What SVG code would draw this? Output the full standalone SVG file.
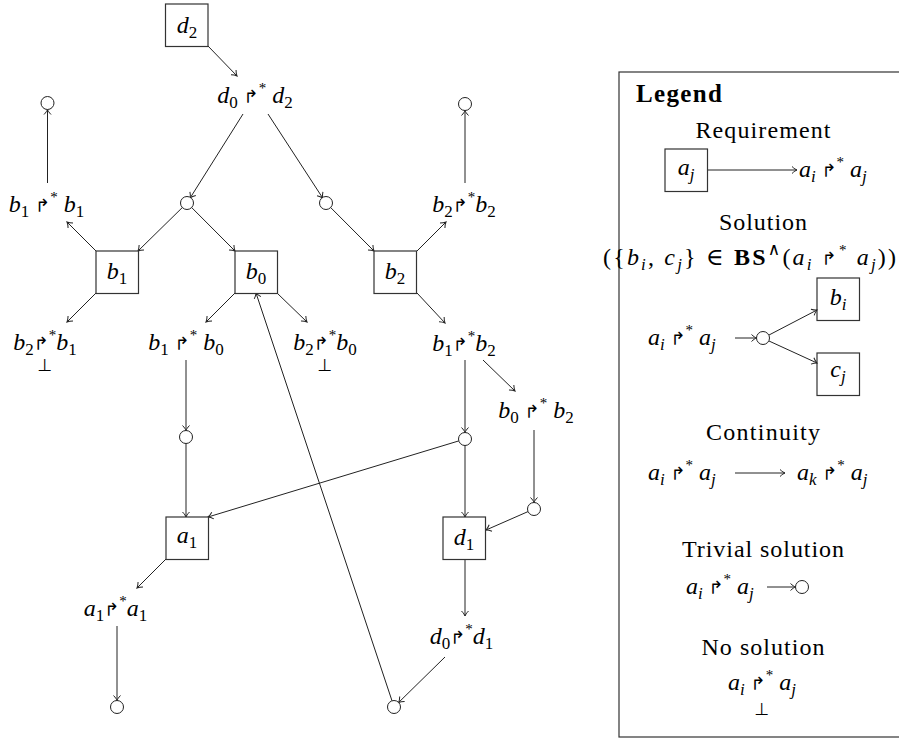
<svg xmlns="http://www.w3.org/2000/svg" width="899" height="738" viewBox="0 0 899 738">
<style>
text{font-family:"Liberation Serif","DejaVu Serif",serif;font-size:24px;fill:#000}
.m{text-anchor:middle}
.i{font-style:italic}
.sb{font-size:17px}
.op{font-family:"DejaVu Sans",sans-serif;font-size:18px}
.sp{font-size:15px}
.bot{font-family:"DejaVu Sans",sans-serif;font-size:17px;text-anchor:middle;fill:#000}
.lt{font-size:24px;text-anchor:middle}
.lg{font-size:25px;font-weight:bold}
.bx{fill:#fff;stroke:#333;stroke-width:1.2}
.ci{fill:#fff;stroke:#222;stroke-width:1}
.e{fill:none;stroke:#222;stroke-width:1}
.a{marker-end:url(#ah)}
</style>
<defs>
<marker id="ah" viewBox="-6 -5 7 10" refX="0" refY="0" markerWidth="7" markerHeight="10" orient="auto" markerUnits="userSpaceOnUse">
<path d="M-5,-3.5 C-3,-1.5 -1,-0.4 0,0 C-1,0.4 -3,1.5 -5,3.5" fill="none" stroke="#222" stroke-width="1"/>
</marker>
</defs>

<g id="connectors">
<line class="e a" x1="208" y1="46" x2="237" y2="76"/>
<line class="e a" x1="243" y1="114" x2="190.2" y2="197.9"/>
<line class="e a" x1="268" y1="114" x2="322.7" y2="198"/>
<line class="e a" x1="182.7" y1="207.2" x2="138" y2="251"/>
<line class="e a" x1="191.3" y1="207.2" x2="235" y2="251"/>
<line class="e a" x1="330.3" y1="207.2" x2="374" y2="251"/>
<line class="e a" x1="96" y1="251" x2="67" y2="222"/>
<line class="e a" x1="47.5" y1="183" x2="47.5" y2="109.5"/>
<line class="e a" x1="417" y1="251" x2="446" y2="222"/>
<line class="e a" x1="465" y1="183" x2="465" y2="110.5"/>
<line class="e a" x1="96" y1="293" x2="67" y2="322"/>
<line class="e a" x1="235" y1="293" x2="206" y2="322"/>
<line class="e a" x1="277" y1="293" x2="307" y2="322"/>
<line class="e a" x1="417" y1="293" x2="445" y2="323"/>
<line class="e a" x1="186" y1="360" x2="186" y2="430.5"/>
<line class="e a" x1="186" y1="443.5" x2="186" y2="517"/>
<line class="e a" x1="465" y1="360" x2="465" y2="432.5"/>
<line class="e a" x1="483" y1="360" x2="515" y2="391"/>
<line class="e a" x1="534" y1="430" x2="534" y2="502.5"/>
<line class="e a" x1="465" y1="445.5" x2="465" y2="517"/>
<line class="e a" x1="458.8" y1="440.9" x2="208" y2="517"/>
<line class="e a" x1="528" y1="511.6" x2="486" y2="530"/>
<line class="e a" x1="166" y1="559" x2="137" y2="588"/>
<line class="e a" x1="117" y1="626" x2="117" y2="700.5"/>
<line class="e a" x1="465" y1="560" x2="465" y2="616"/>
<line class="e a" x1="445" y1="657" x2="398.6" y2="702.5"/>
<line class="e a" x1="392" y1="700.8" x2="256" y2="293"/>
</g>

<g id="node-d2"><rect class="bx" x="165.5" y="4" width="42.5" height="42.5"/><text class="m" x="187" y="33"><tspan class="i">d</tspan><tspan class="sb" dy="5">2</tspan></text></g>
<g id="node-d0d2"><text class="m" x="255" y="103"><tspan class="i">d</tspan><tspan class="sb" dy="5">0</tspan><tspan class="op" dy="-5"> ↱</tspan><tspan class="sp" dy="-10">*</tspan><tspan class="i" dy="10"> d</tspan><tspan class="sb" dy="5">2</tspan></text></g>
<g id="node-c1"><circle class="ci" cx="187" cy="203" r="6.5"/></g>
<g id="node-c2"><circle class="ci" cx="326" cy="203" r="6.5"/></g>
<g id="node-c3"><circle class="ci" cx="47.5" cy="103" r="6.5"/></g>
<g id="node-c4"><circle class="ci" cx="465" cy="104" r="6.5"/></g>
<g id="node-b1b1"><text class="m" x="46.5" y="212"><tspan class="i">b</tspan><tspan class="sb" dy="5">1</tspan><tspan class="op" dy="-5"> ↱</tspan><tspan class="sp" dy="-10">*</tspan><tspan class="i" dy="10"> b</tspan><tspan class="sb" dy="5">1</tspan></text></g>
<g id="node-b2b2"><text class="m" x="464" y="212"><tspan class="i">b</tspan><tspan class="sb" dy="5">2</tspan><tspan class="op" dy="-5">↱</tspan><tspan class="sp" dy="-10">*</tspan><tspan class="i" dy="10">b</tspan><tspan class="sb" dy="5">2</tspan></text></g>
<g id="node-b1"><rect class="bx" x="96" y="251" width="42.5" height="42.5"/><text class="m" x="117" y="279"><tspan class="i">b</tspan><tspan class="sb" dy="5">1</tspan></text></g>
<g id="node-b0"><rect class="bx" x="235" y="251" width="42.5" height="42.5"/><text class="m" x="256" y="279"><tspan class="i">b</tspan><tspan class="sb" dy="5">0</tspan></text></g>
<g id="node-b2"><rect class="bx" x="374" y="251" width="42.5" height="42.5"/><text class="m" x="395" y="279"><tspan class="i">b</tspan><tspan class="sb" dy="5">2</tspan></text></g>
<g id="node-b2b1"><text class="m" x="45" y="350"><tspan class="i">b</tspan><tspan class="sb" dy="5">2</tspan><tspan class="op" dy="-5">↱</tspan><tspan class="sp" dy="-10">*</tspan><tspan class="i" dy="10">b</tspan><tspan class="sb" dy="5">1</tspan></text><text class="bot" x="45" y="371">⊥</text></g>
<g id="node-b1b0"><text class="m" x="186" y="350"><tspan class="i">b</tspan><tspan class="sb" dy="5">1</tspan><tspan class="op" dy="-5"> ↱</tspan><tspan class="sp" dy="-10">*</tspan><tspan class="i" dy="10"> b</tspan><tspan class="sb" dy="5">0</tspan></text></g>
<g id="node-b2b0"><text class="m" x="325" y="350"><tspan class="i">b</tspan><tspan class="sb" dy="5">2</tspan><tspan class="op" dy="-5">↱</tspan><tspan class="sp" dy="-10">*</tspan><tspan class="i" dy="10">b</tspan><tspan class="sb" dy="5">0</tspan></text><text class="bot" x="325" y="371">⊥</text></g>
<g id="node-b1b2"><text class="m" x="464" y="351"><tspan class="i">b</tspan><tspan class="sb" dy="5">1</tspan><tspan class="op" dy="-5">↱</tspan><tspan class="sp" dy="-10">*</tspan><tspan class="i" dy="10">b</tspan><tspan class="sb" dy="5">2</tspan></text></g>
<g id="node-b0b2"><text class="m" x="536" y="418"><tspan class="i">b</tspan><tspan class="sb" dy="5">0</tspan><tspan class="op" dy="-5"> ↱</tspan><tspan class="sp" dy="-10">*</tspan><tspan class="i" dy="10"> b</tspan><tspan class="sb" dy="5">2</tspan></text></g>
<g id="node-c5"><circle class="ci" cx="186" cy="437" r="6.5"/></g>
<g id="node-c6"><circle class="ci" cx="465" cy="439" r="6.5"/></g>
<g id="node-c7"><circle class="ci" cx="534" cy="509" r="6.5"/></g>
<g id="node-a1"><rect class="bx" x="166" y="517" width="42.5" height="42.5"/><text class="m" x="187" y="543"><tspan class="i">a</tspan><tspan class="sb" dy="5">1</tspan></text></g>
<g id="node-d1"><rect class="bx" x="443" y="517" width="42.5" height="42.5"/><text class="m" x="464" y="545"><tspan class="i">d</tspan><tspan class="sb" dy="5">1</tspan></text></g>
<g id="node-a1a1"><text class="m" x="115.5" y="616"><tspan class="i">a</tspan><tspan class="sb" dy="5">1</tspan><tspan class="op" dy="-5">↱</tspan><tspan class="sp" dy="-10">*</tspan><tspan class="i" dy="10">a</tspan><tspan class="sb" dy="5">1</tspan></text></g>
<g id="node-d0d1"><text class="m" x="461.5" y="644"><tspan class="i">d</tspan><tspan class="sb" dy="5">0</tspan><tspan class="op" dy="-5">↱</tspan><tspan class="sp" dy="-10">*</tspan><tspan class="i" dy="10">d</tspan><tspan class="sb" dy="5">1</tspan></text></g>
<g id="node-c8"><circle class="ci" cx="117" cy="707" r="6.5"/></g>
<g id="node-c9"><circle class="ci" cx="394" cy="707" r="6.5"/></g>

<g id="legend">
<rect x="619" y="72" width="290" height="665" fill="none" stroke="#333" stroke-width="1.2"/>
<text class="lg" x="636" y="102" textLength="86" lengthAdjust="spacing">Legend</text>
<text class="lt" x="763" y="138" textLength="135" lengthAdjust="spacing">Requirement</text>
<rect class="bx" x="665" y="149" width="42.5" height="42.5"/>
<text class="m" x="686" y="175"><tspan class="i">a</tspan><tspan class="sb i" dy="5">j</tspan></text>
<line class="e a" x1="708" y1="170" x2="797" y2="170"/>
<text x="799" y="177"><tspan class="i">a</tspan><tspan class="sb i" dy="5">i</tspan><tspan class="op" dy="-5"> ↱</tspan><tspan class="sp" dy="-10">*</tspan><tspan class="i" dy="10"> a</tspan><tspan class="sb i" dy="5">j</tspan></text>
<text class="lt" x="763" y="230" textLength="88" lengthAdjust="spacing">Solution</text>
<text x="603" y="265" textLength="293" lengthAdjust="spacing">({<tspan class="i">b</tspan><tspan class="sb i" dy="5">i</tspan><tspan dy="-5">, </tspan><tspan class="i">c</tspan><tspan class="sb i" dy="5">j</tspan><tspan dy="-5">} ∈ </tspan><tspan font-weight="bold">BS</tspan><tspan class="sb" dy="-10">∧</tspan><tspan dy="10">(</tspan><tspan class="i">a</tspan><tspan class="sb i" dy="5">i</tspan><tspan class="op" dy="-5"> ↱</tspan><tspan class="sp" dy="-10">*</tspan><tspan class="i" dy="10"> a</tspan><tspan class="sb i" dy="5">j</tspan><tspan dy="-5">))</tspan></text>
<rect class="bx" x="817" y="278" width="42.5" height="42.5"/>
<text class="m" x="838" y="305"><tspan class="i">b</tspan><tspan class="sb i" dy="5">i</tspan></text>
<rect class="bx" x="817" y="353" width="42.5" height="42.5"/>
<text class="m" x="838" y="377"><tspan class="i">c</tspan><tspan class="sb i" dy="5">j</tspan></text>
<text x="648" y="345"><tspan class="i">a</tspan><tspan class="sb i" dy="5">i</tspan><tspan class="op" dy="-5"> ↱</tspan><tspan class="sp" dy="-10">*</tspan><tspan class="i" dy="10"> a</tspan><tspan class="sb i" dy="5">j</tspan></text>
<line class="e a" x1="735" y1="338" x2="756.5" y2="338"/>
<circle class="ci" cx="763" cy="338" r="6.5"/>
<line class="e a" x1="769" y1="335" x2="817" y2="310"/>
<line class="e a" x1="769" y1="341" x2="817" y2="363"/>
<text class="lt" x="763" y="440" textLength="114" lengthAdjust="spacing">Continuity</text>
<text x="648" y="480"><tspan class="i">a</tspan><tspan class="sb i" dy="5">i</tspan><tspan class="op" dy="-5"> ↱</tspan><tspan class="sp" dy="-10">*</tspan><tspan class="i" dy="10"> a</tspan><tspan class="sb i" dy="5">j</tspan></text>
<line class="e a" x1="735" y1="473" x2="785" y2="473"/>
<text x="797" y="480"><tspan class="i">a</tspan><tspan class="sb i" dy="5">k</tspan><tspan class="op" dy="-5"> ↱</tspan><tspan class="sp" dy="-10">*</tspan><tspan class="i" dy="10"> a</tspan><tspan class="sb i" dy="5">j</tspan></text>
<text class="lt" x="763" y="557" textLength="162" lengthAdjust="spacing">Trivial solution</text>
<text x="686" y="594"><tspan class="i">a</tspan><tspan class="sb i" dy="5">i</tspan><tspan class="op" dy="-5"> ↱</tspan><tspan class="sp" dy="-10">*</tspan><tspan class="i" dy="10"> a</tspan><tspan class="sb i" dy="5">j</tspan></text>
<line class="e a" x1="767" y1="587" x2="795.5" y2="587"/>
<circle class="ci" cx="802" cy="587" r="6.5"/>
<text class="lt" x="763" y="655" textLength="123" lengthAdjust="spacing">No solution</text>
<text class="m" x="762" y="690"><tspan class="i">a</tspan><tspan class="sb i" dy="5">i</tspan><tspan class="op" dy="-5"> ↱</tspan><tspan class="sp" dy="-10">*</tspan><tspan class="i" dy="10"> a</tspan><tspan class="sb i" dy="5">j</tspan></text>
<text class="bot" x="762" y="715">⊥</text>
</g>
</svg>
